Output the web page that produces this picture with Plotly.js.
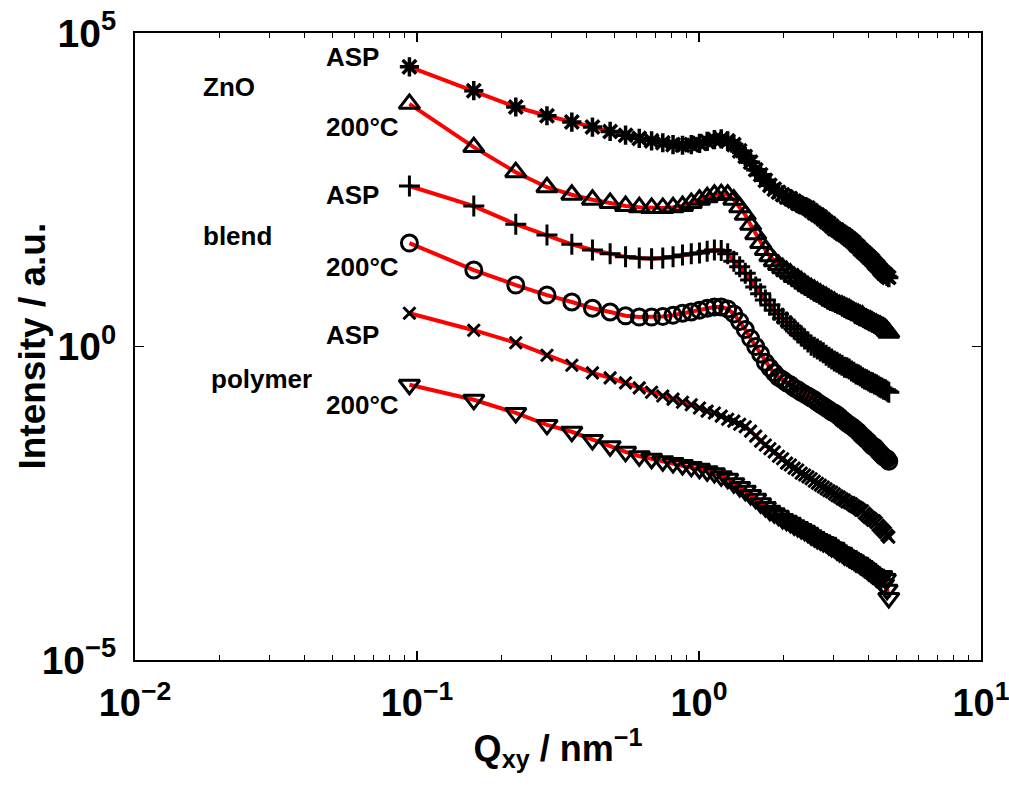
<!DOCTYPE html>
<html><head><meta charset="utf-8">
<script src="https://cdn.plot.ly/plotly-3.0.1.min.js"></script>
<style>html,body{margin:0;padding:0;background:#fff}#plot{width:1009px;height:789px}</style>
</head><body><div id="plot"></div>
<script>
// Q_xy in nm^-1 (shared by all curves)
const Q = [0.094,0.159,0.224,0.289,0.354,0.419,0.484,0.549,0.614,0.679,0.744,0.809,0.874,0.939,1.004,1.069,1.134,1.199,1.264,1.329,1.394,1.459,1.524,1.589,1.654,1.719,1.784,1.849,1.914,1.979,2.044,2.109,2.174,2.239,2.304,2.369,2.434,2.499,2.564,2.629,2.694,2.759,2.824,2.889,2.954,3.019,3.084,3.149,3.214,3.279,3.344,3.409,3.474,3.539,3.604,3.669,3.734,3.799,3.864,3.929,3.994,4.059,4.124,4.189,4.254,4.319,4.384,4.449,4.514,4.579,4.644,4.709];

// log10 of intensity (a.u.)
const log10I_ZnO_ASP = [4.46,4.08,3.82,3.68,3.58,3.50,3.43,3.37,3.32,3.28,3.25,3.22,3.21,3.22,3.24,3.27,3.30,3.31,3.28,3.22,3.12,3.03,2.94,2.82,2.74,2.65,2.57,2.51,2.46,2.42,2.38,2.36,2.32,2.28,2.26,2.23,2.21,2.17,2.13,2.10,2.07,2.03,1.99,1.96,1.92,1.88,1.86,1.83,1.80,1.78,1.75,1.72,1.69,1.66,1.62,1.59,1.55,1.52,1.49,1.46,1.43,1.40,1.37,1.33,1.30,1.27,1.23,1.20,1.17,1.15,1.12,1.10];
const log10I_ZnO_200C = [3.87,3.18,2.78,2.54,2.42,2.34,2.29,2.24,2.22,2.21,2.21,2.22,2.24,2.29,2.34,2.38,2.42,2.43,2.42,2.34,2.22,2.10,1.94,1.79,1.65,1.54,1.44,1.36,1.30,1.25,1.20,1.16,1.11,1.08,1.04,1.00,0.96,0.93,0.90,0.87,0.84,0.81,0.79,0.76,0.73,0.71,0.68,0.66,0.65,0.63,0.61,0.60,0.57,0.55,0.53,0.52,0.50,0.49,0.45,0.44,0.42,0.41,0.39,0.37,0.36,0.34,0.33,0.31,0.30,0.28,0.25,0.22];
const log10I_blend_ASP = [2.56,2.24,1.95,1.78,1.63,1.54,1.48,1.43,1.41,1.40,1.41,1.43,1.46,1.48,1.49,1.52,1.54,1.53,1.48,1.36,1.27,1.17,1.06,0.95,0.84,0.74,0.66,0.58,0.52,0.45,0.39,0.33,0.28,0.22,0.17,0.12,0.07,0.02,-0.01,-0.04,-0.07,-0.10,-0.14,-0.17,-0.20,-0.23,-0.25,-0.28,-0.30,-0.33,-0.34,-0.36,-0.39,-0.41,-0.44,-0.45,-0.47,-0.50,-0.52,-0.53,-0.55,-0.57,-0.58,-0.60,-0.61,-0.63,-0.65,-0.66,-0.68,-0.69,-0.71,-0.73];
const log10I_blend_200C = [1.65,1.22,0.98,0.82,0.71,0.61,0.55,0.49,0.47,0.47,0.48,0.50,0.53,0.55,0.58,0.61,0.63,0.63,0.60,0.52,0.40,0.27,0.13,0.00,-0.12,-0.25,-0.34,-0.42,-0.49,-0.53,-0.58,-0.61,-0.66,-0.69,-0.73,-0.76,-0.79,-0.82,-0.85,-0.89,-0.92,-0.95,-0.98,-1.01,-1.04,-1.06,-1.09,-1.12,-1.16,-1.19,-1.22,-1.25,-1.27,-1.30,-1.33,-1.36,-1.40,-1.43,-1.46,-1.49,-1.52,-1.56,-1.59,-1.60,-1.63,-1.67,-1.70,-1.73,-1.76,-1.78,-1.79,-1.83];
const log10I_polymer_ASP = [0.53,0.26,0.06,-0.14,-0.30,-0.42,-0.50,-0.58,-0.66,-0.73,-0.79,-0.84,-0.89,-0.93,-0.98,-1.03,-1.06,-1.11,-1.16,-1.19,-1.24,-1.28,-1.35,-1.43,-1.51,-1.57,-1.63,-1.68,-1.75,-1.79,-1.86,-1.89,-1.94,-1.97,-2.02,-2.05,-2.08,-2.11,-2.15,-2.18,-2.21,-2.24,-2.27,-2.30,-2.32,-2.35,-2.38,-2.40,-2.43,-2.45,-2.48,-2.49,-2.51,-2.54,-2.56,-2.58,-2.61,-2.62,-2.66,-2.69,-2.72,-2.74,-2.77,-2.78,-2.81,-2.85,-2.88,-2.91,-2.94,-2.97,-3.01,-3.04];
const log10I_polymer_200C = [-0.61,-0.85,-1.06,-1.25,-1.36,-1.49,-1.59,-1.68,-1.75,-1.79,-1.83,-1.86,-1.89,-1.92,-1.95,-1.99,-2.02,-2.07,-2.11,-2.18,-2.24,-2.30,-2.37,-2.43,-2.50,-2.56,-2.62,-2.66,-2.70,-2.75,-2.78,-2.81,-2.85,-2.88,-2.91,-2.94,-2.97,-3.01,-3.04,-3.07,-3.09,-3.12,-3.13,-3.17,-3.20,-3.21,-3.25,-3.28,-3.29,-3.33,-3.34,-3.37,-3.39,-3.41,-3.44,-3.45,-3.48,-3.50,-3.53,-3.55,-3.58,-3.60,-3.63,-3.64,-3.68,-3.69,-3.72,-3.66,-3.79,-3.71,-3.88,-4.01];

const seriesNames = ['ZnO ASP','ZnO 200°C','blend ASP','blend 200°C','polymer ASP','polymer 200°C'];
const seriesLog = [log10I_ZnO_ASP, log10I_ZnO_200C, log10I_blend_ASP, log10I_blend_200C, log10I_polymer_ASP, log10I_polymer_200C];

const xTickVals = [0.01, 0.1, 1, 10];
const xTickText = ['10<sup>−2</sup>','10<sup>−1</sup>','10<sup>0</sup>','10<sup>1</sup>'];
const yTickVals = [1e-5, 1, 1e5];
const yTickText = ['10<sup>−5</sup>','10<sup>0</sup>','10<sup>5</sup>'];
const xTitle = 'Q<sub>xy</sub> / nm<sup>−1</sup>';
const yTitle = 'Intensity / a.u.';

const labelTexts = ['ASP','ZnO','200°C','ASP','blend','200°C','ASP','polymer','200°C'];

// styling
const symbols = ['asterisk-open','triangle-up-open','cross-thin-open','circle-open','x-thin-open','triangle-down-open'];
const sizes = [16,18,15,16,12,18];
const widths = [3.5,3,3,3,3,3];
const labelPos = [[0.2234,0.962],[0.078,0.914],[0.2234,0.850],[0.2234,0.742],[0.078,0.676],[0.2234,0.627],[0.2234,0.518],[0.0875,0.448],[0.2234,0.407]];

const FONT = 'Liberation Sans, Arial, Helvetica, sans-serif';

const traces = seriesLog.map((lg, k) => ({
  type: 'scatter', mode: 'lines+markers', name: seriesNames[k],
  x: Q, y: lg.map(v => Math.pow(10, v)),
  line: {color: '#ff0000', width: 4},
  marker: {symbol: symbols[k], size: sizes[k], color: '#000', line: {color: '#000', width: widths[k]}},
  showlegend: false
}));

const minorX = [];
[0.01, 0.1, 1].forEach(d => { for (let m = 2; m <= 9; m++) minorX.push(d * m); });

const annotations = labelTexts.map((t, i) => ({
  text: t, xref: 'paper', yref: 'paper', x: labelPos[i][0], y: labelPos[i][1],
  xanchor: 'left', yanchor: 'middle', showarrow: false,
  font: {family: FONT, size: 26, weight: 'bold', color: '#000'}
}));
annotations.push({
  text: yTitle, xref: 'paper', yref: 'paper', x: -0.1217, y: 0.5, textangle: -90,
  xanchor: 'center', yanchor: 'middle', showarrow: false,
  font: {family: FONT, size: 37, weight: 'bold', color: '#000'}
});

const layout = {
  width: 1009, height: 789,
  margin: {l: 135, r: 28, t: 33, b: 129},
  paper_bgcolor: '#fff', plot_bgcolor: '#fff',
  font: {family: FONT, color: '#000', weight: 'bold'},
  xaxis: {
    type: 'log', range: [-2, 1],
    tickmode: 'array', tickvals: xTickVals, ticktext: xTickText,
    ticks: 'inside', ticklen: 9, tickwidth: 1.2, tickcolor: '#000',
    minor: {tickmode: 'array', tickvals: minorX, ticks: 'inside', ticklen: 5, tickwidth: 1, tickcolor: '#000', showgrid: false},
    showline: true, linecolor: '#000', linewidth: 2, mirror: 'ticks',
    showgrid: false, zeroline: false, ticklabelstandoff: 8, ticklabeloverflow: 'allow',
    tickfont: {family: FONT, size: 38, weight: 'bold', color: '#000'},
    title: {text: xTitle, font: {family: FONT, size: 36, weight: 'bold', color: '#000'}, standoff: 13}
  },
  yaxis: {
    type: 'log', range: [-5, 5],
    tickmode: 'array', tickvals: yTickVals, ticktext: yTickText,
    ticks: 'inside', ticklen: 9, tickwidth: 1.2, tickcolor: '#000',
    showline: true, linecolor: '#000', linewidth: 2, mirror: 'ticks',
    showgrid: false, zeroline: false, ticklabelstandoff: 9, ticklabeloverflow: 'allow',
    tickfont: {family: FONT, size: 39, weight: 'bold', color: '#000'}
  },
  annotations: annotations
};

Plotly.newPlot('plot', traces, layout, {displayModeBar: false, staticPlot: true});
</script>
</body></html>
